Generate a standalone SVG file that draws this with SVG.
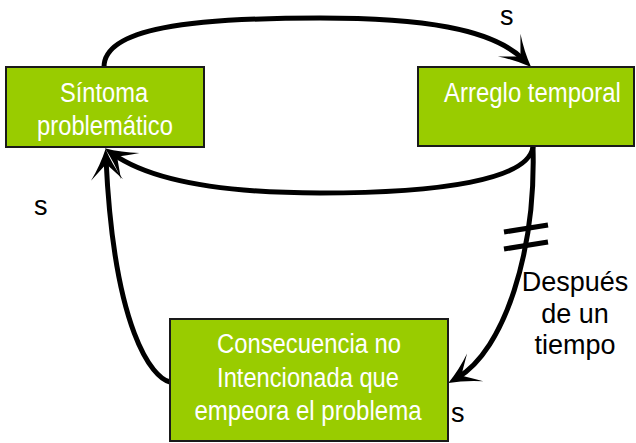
<svg xmlns="http://www.w3.org/2000/svg" width="636" height="443" viewBox="0 0 636 443">
<style>
.box{fill:#99CC00;stroke:#1a1a1a;stroke-width:2}
.bt{fill:#ffffff;font-family:"Liberation Sans",Arial,sans-serif;font-size:28px;text-anchor:middle}
.lbl{fill:#000000;font-family:"Liberation Sans",Arial,sans-serif;font-size:27px}
.c{fill:none;stroke:#000;stroke-width:5}
</style>
<defs>
<marker id="ah" markerUnits="userSpaceOnUse" viewBox="-32 -17 34 34" refX="-10" refY="0" markerWidth="34" markerHeight="34" orient="auto">
<path d="M0,0 Q-16,-6 -31,-16 Q-21,-6 -15,0 Q-21,6 -31,16 Q-16,6 0,0 Z" fill="#000"/>
</marker>
</defs>
<g id="connectors">
<path class="c" d="M104,67 C104,28 190,18 320,18 C420,18 492,28 524,60" marker-end="url(#ah)"/>
<path class="c" d="M533,147 C528,180 440,193 320,193 C220,193 150,180 113,154" marker-end="url(#ah)"/>
<path class="c" d="M170,382 C152,378 114,330 106,159" marker-end="url(#ah)"/>
<path class="c" d="M533,147 C536,250 505,350 457,378" marker-end="url(#ah)"/>
<line class="c" x1="504" y1="232" x2="548" y2="225"/>
<line class="c" x1="504" y1="249" x2="548" y2="242"/>
</g>
<g id="sintoma">
<rect class="box" x="6" y="67" width="198" height="80"/>
<text class="bt" transform="translate(104,102) scale(0.845,1)">Síntoma</text>
<text class="bt" transform="translate(105,135) scale(0.848,1)">problemático</text>
</g>
<g id="arreglo">
<rect class="box" x="418" y="67" width="216" height="79"/>
<text class="bt" transform="translate(532.5,102) scale(0.855,1)">Arreglo temporal</text>
</g>
<g id="consecuencia">
<rect class="box" x="170" y="319" width="278" height="122"/>
<text class="bt" transform="translate(309,353) scale(0.851,1)">Consecuencia no</text>
<text class="bt" transform="translate(308,387) scale(0.847,1)">Intencionada que</text>
<text class="bt" transform="translate(308,420) scale(0.859,1)">empeora el problema</text>
</g>
<g id="labels">
<text class="lbl" x="500" y="25">s</text>
<text class="lbl" x="34" y="215">s</text>
<text class="lbl" x="451" y="422">s</text>
<text class="lbl" x="575" y="291" text-anchor="middle">Después</text>
<text class="lbl" x="575" y="323" text-anchor="middle">de un</text>
<text class="lbl" x="575" y="354" text-anchor="middle">tiempo</text>
</g>
</svg>
